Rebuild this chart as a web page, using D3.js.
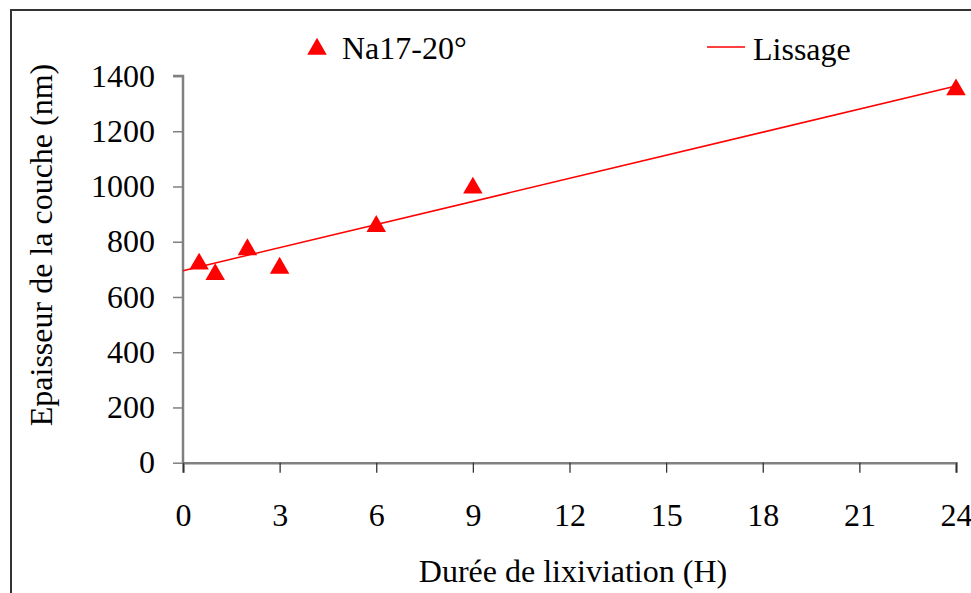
<!DOCTYPE html>
<html>
<head>
<meta charset="utf-8">
<script src="https://cdn.jsdelivr.net/npm/d3@7"></script>
<style>
  body { margin: 0; background: #fff; }
</style>
</head>
<body>
<script>
// data
var hours = [0.5, 1, 2, 3, 6, 9, 24];
var thickness = [725, 687, 777, 710, 861, 1000, 1356];
// fitted line (Lissage) end points
var fitX = [0, 24];
var fitY = [695, 1364];
var xTicks = [0, 3, 6, 9, 12, 15, 18, 21, 24];
var yTicks = [0, 200, 400, 600, 800, 1000, 1200, 1400];

var FONT = "'Times New Roman', 'Liberation Serif', serif";
var FS = "32px";
var W = 971, H = 593;
var margin = { top: 76, right: 15, bottom: 130, left: 183 },
    width = 956 - margin.left,
    height = 462.7 - margin.top;

var svg = d3.select("body")
    .append("svg")
    .attr("width", W)
    .attr("height", H)
    .style("font-family", FONT);

// outer frame
svg.append("rect")
    .attr("x", 11).attr("y", 10)
    .attr("width", 1000).attr("height", 650)
    .attr("fill", "none")
    .attr("stroke", "#333")
    .attr("stroke-width", 2);

var g = svg.append("g")
    .attr("transform", "translate(" + margin.left + "," + margin.top + ")");

var x = d3.scaleLinear().domain([0, 24]).range([0, width]);
var y = d3.scaleLinear().domain([0, 1400]).range([height, 0]);

function label(sel) {
    return sel.style("font-family", FONT).style("font-size", FS).attr("fill", "#000");
}

// X axis
var xa = g.append("g")
    .attr("transform", "translate(0," + height + ")")
    .call(d3.axisBottom(x).tickValues(xTicks).tickFormat(d3.format("d")).tickSize(10).tickPadding(31));
xa.select(".domain").attr("stroke", "#808080").attr("stroke-width", 2.5);
xa.selectAll(".tick line").attr("stroke", "#333").attr("stroke-width", 1.3);
xa.selectAll("text").call(label);

// Y axis
var ya = g.append("g")
    .call(d3.axisLeft(y).tickValues(yTicks).tickFormat(d3.format("d")).tickSize(10).tickPadding(18));
ya.select(".domain").attr("stroke", "#808080").attr("stroke-width", 2.5)
    .attr("d", "M-10,0H0V" + height);
ya.selectAll(".tick line").attr("stroke", "#808080").attr("stroke-width", 1.5);
ya.selectAll("text").call(label);

// fitted line
g.append("path")
    .datum(fitX.map(function (d, i) { return [d, fitY[i]]; }))
    .attr("fill", "none")
    .attr("stroke", "#ff0000")
    .attr("stroke-width", 1.6)
    .attr("d", d3.line()
        .x(function (d) { return x(d[0]); })
        .y(function (d) { return y(d[1]); }));

// markers
var tri = d3.symbol().type(d3.symbolTriangle).size(165);
g.selectAll(".pt")
    .data(hours)
    .enter()
    .append("path")
    .attr("class", "pt")
    .attr("d", tri)
    .attr("transform", function (d, i) {
        return "translate(" + x(d) + "," + (y(thickness[i]) + 1.5) + ")";
    })
    .attr("fill", "#ff0000");

// axis titles
svg.append("text")
    .attr("x", 573).attr("y", 582)
    .attr("text-anchor", "middle")
    .call(label)
    .text("Durée de lixiviation (H)");

svg.append("text")
    .attr("transform", "translate(52,245)rotate(-90)")
    .attr("text-anchor", "middle")
    .call(label)
    .text("Epaisseur de la couche (nm)");

// legend
svg.append("path")
    .attr("d", tri)
    .attr("transform", "translate(317,49)")
    .attr("fill", "#ff0000");
svg.append("text")
    .attr("x", 342).attr("y", 59)
    .call(label)
    .text("Na17-20°");

svg.append("line")
    .attr("x1", 707).attr("x2", 745)
    .attr("y1", 47).attr("y2", 47)
    .attr("stroke", "#ff0000")
    .attr("stroke-width", 1.6);
svg.append("text")
    .attr("x", 753).attr("y", 60)
    .call(label)
    .text("Lissage");
</script>
</body>
</html>
